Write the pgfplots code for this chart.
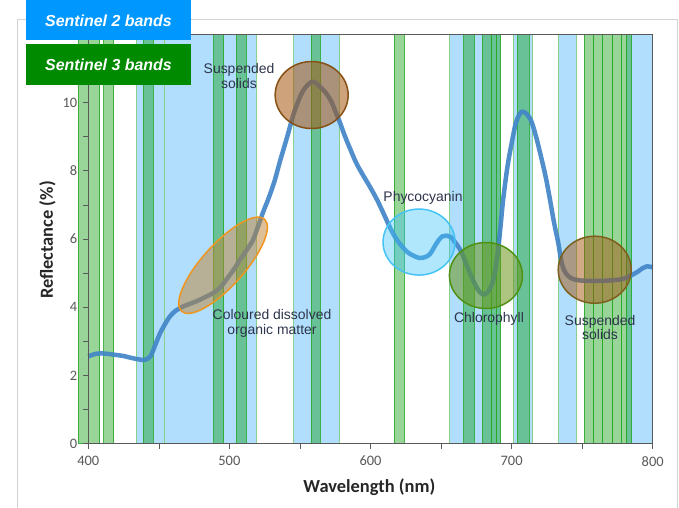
\documentclass[border=0pt]{standalone}
\usepackage{pgfplots}
\pgfplotsset{compat=1.18}
\usepackage{fontspec}
\setmainfont{Carlito}
\newfontfamily\arialfont{Liberation Sans}
\usetikzlibrary{shapes.geometric}

\definecolor{s2head}{RGB}{0,152,255}
\definecolor{s3head}{RGB}{0,138,0}
\definecolor{s2fill}{RGB}{176,222,252}
\definecolor{s3green}{RGB}{0,150,0}
\definecolor{s3edge}{RGB}{40,170,40}
\definecolor{curveblue}{RGB}{66,134,200}
\definecolor{labelgray}{RGB}{89,89,89}
\definecolor{annot}{RGB}{45,52,75}
\definecolor{ssfill}{RGB}{165,85,15}
\definecolor{ssedge}{RGB}{135,80,20}
\definecolor{cdomfill}{RGB}{190,130,50}
\definecolor{cdomedge}{RGB}{240,150,30}
\definecolor{pcfill}{RGB}{60,195,250}
\definecolor{pcedge}{RGB}{70,195,245}
\definecolor{chlfill}{RGB}{105,150,25}
\definecolor{chledge}{RGB}{80,145,20}
\definecolor{ss2edge}{RGB}{125,95,30}

\pgfplotsset{
  s2band/.style={fill=s2fill, draw=s3edge!55, line width=0.6bp},
  s3band/.style={fill=s3green, fill opacity=0.4, draw=s3edge, draw opacity=0.85, line width=0.8bp},
}

\begin{document}
\begin{tikzpicture}
\useasboundingbox (0,0) rectangle (679bp,508bp);
% chart frame
\draw[gray!35, line width=0.8bp] (17bp,-5bp) -- (17bp,489bp) -- (677bp,489bp) -- (677bp,-5bp);

\begin{axis}[
  at={(88.3bp,64.3bp)}, anchor=south west,
  scale only axis, width=564.4bp, height=409.4bp,
  xmin=400, xmax=800, ymin=0, ymax=12,
  clip=false, axis on top,
  xtick={400,500,600,700,800}, minor x tick num=1,
  ytick={0,2,...,12}, minor y tick num=1,
  xtick pos=bottom, ytick pos=left,
  tick align=outside,
  major tick length=5bp, minor tick length=5bp,
  tick style={draw=labelgray, line width=0.6bp},
  axis line style={draw=labelgray, line width=0.7bp},
  /pgf/number format/assume math mode=true,
  tick label style={font=\fontsize{14.5}{14.5}\selectfont, text=labelgray},
  xticklabel style={yshift=-4bp},
  yticklabel style={xshift=-2.5bp},
  xlabel={Wavelength (nm)},
  ylabel={Reflectance (\%)},
  label style={font=\fontsize{18.5}{18.5}\selectfont\bfseries, text=black!85},
  xlabel style={at={(axis description cs:0.498,-0.1058)}, anchor=center},
  ylabel style={at={(axis description cs:-0.0723,0.4976)}, anchor=center, rotate=0},
]
% Sentinel-2 bands
\addplot[s2band] coordinates {(434,0)(434,12)(454,12)(454,0)} -- cycle;
\addplot[s2band] coordinates {(454,0)(454,12)(519,12)(519,0)} -- cycle;
\addplot[s2band] coordinates {(545,0)(545,12)(578,12)(578,0)} -- cycle;
\addplot[s2band] coordinates {(655.5,0)(655.5,12)(692,12)(692,0)} -- cycle;
\addplot[s2band] coordinates {(701,0)(701,12)(715,12)(715,0)} -- cycle;
\addplot[s2band] coordinates {(733,0)(733,12)(746,12)(746,0)} -- cycle;
\addplot[s2band] coordinates {(781,0)(781,12)(800,12)(800,0)} -- cycle;
% Sentinel-3 bands
\addplot[s3band] coordinates {(393,0)(393,12)(408,12)(408,0)} -- cycle;
\addplot[s3band] coordinates {(411,0)(411,12)(418,12)(418,0)} -- cycle;
\addplot[s3band] coordinates {(439,0)(439,12)(446,12)(446,0)} -- cycle;
\addplot[s3band] coordinates {(489,0)(489,12)(496,12)(496,0)} -- cycle;
\addplot[s3band] coordinates {(505,0)(505,12)(512,12)(512,0)} -- cycle;
\addplot[s3band] coordinates {(558,0)(558,12)(564.5,12)(564.5,0)} -- cycle;
\addplot[s3band] coordinates {(617,0)(617,12)(624,12)(624,0)} -- cycle;
\addplot[s3band] coordinates {(666,0)(666,12)(673.5,12)(673.5,0)} -- cycle;
\addplot[s3band] coordinates {(679,0)(679,12)(685.5,12)(685.5,0)} -- cycle;
\addplot[s3band] coordinates {(685.5,0)(685.5,12)(689.3,12)(689.3,0)} -- cycle;
\addplot[s3band] coordinates {(689.3,0)(689.3,12)(692,12)(692,0)} -- cycle;
\addplot[s3band] coordinates {(704,0)(704,12)(712.5,12)(712.5,0)} -- cycle;
\addplot[s3band] coordinates {(751.3,0)(751.3,12)(758,12)(758,0)} -- cycle;
\addplot[s3band] coordinates {(758,0)(758,12)(764.6,12)(764.6,0)} -- cycle;
\addplot[s3band] coordinates {(764.6,0)(764.6,12)(771.4,12)(771.4,0)} -- cycle;
\addplot[s3band] coordinates {(771.4,0)(771.4,12)(778,12)(778,0)} -- cycle;
\addplot[s3band] coordinates {(778,0)(778,12)(781.6,12)(781.6,0)} -- cycle;
\addplot[s3band] coordinates {(781.6,0)(781.6,12)(785.1,12)(785.1,0)} -- cycle;

% water reflectance spectrum
\addplot[curveblue, line width=4.5bp, draw opacity=0.92, smooth, tension=0.6] table {
400 2.56
406 2.64
412 2.64
418 2.61
425 2.57
430 2.52
436 2.47
440 2.46
444 2.56
448 2.95
451 3.25
455 3.55
458 3.74
462 3.90
466 4.00
472 4.10
477 4.18
483 4.30
489 4.43
494 4.60
498 4.82
503 5.10
508 5.42
513 5.72
517 6.00
521 6.45
524 6.80
528 7.22
532 7.70
536 8.30
541 9.00
545 9.60
548 9.95
551 10.25
554 10.45
558 10.60
561 10.58
564 10.47
568 10.30
572 10.05
575 9.75
578 9.45
582 9.00
586 8.60
590 8.22
595 7.85
600 7.50
605 7.12
610 6.68
614 6.32
618 6.02
622 5.80
626 5.62
630 5.52
634 5.45
638 5.46
642 5.55
645 5.75
648 5.95
651 6.08
654 6.10
657 6.05
660 5.90
664 5.65
668 5.25
671 4.95
675 4.60
678 4.42
681 4.38
684 4.50
687 4.80
690 5.55
692 6.30
694 7.15
697 8.10
700 8.80
703 9.40
706 9.68
708 9.73
711 9.65
714 9.45
717 9.05
720 8.56
724 7.85
727 7.20
730 6.50
733 5.90
735 5.40
737 5.10
740 4.92
744 4.82
750 4.78
756 4.77
762 4.77
768 4.78
774 4.80
779 4.83
784 4.92
789 5.03
793 5.15
796 5.20
800 5.17
};

% highlighted features
\node[ellipse, inner sep=0, minimum width=124bp, minimum height=42bp, rotate=48,
      fill=cdomfill, fill opacity=0.5, draw=cdomedge, line width=1.5bp] at (axis cs:495.5,5.23) {};
\node[ellipse, inner sep=0, minimum width=73bp, minimum height=67bp,
      fill=ssfill, fill opacity=0.55, draw=ssedge, line width=1.5bp] at (axis cs:558.3,10.22) {};
\node[ellipse, inner sep=0, minimum width=72bp, minimum height=66bp,
      fill=pcfill, fill opacity=0.4, draw=pcedge, line width=1.5bp] at (axis cs:634.4,5.91) {};
\node[ellipse, inner sep=0, minimum width=73bp, minimum height=66bp,
      fill=chlfill, fill opacity=0.55, draw=chledge, line width=1.5bp] at (axis cs:681.8,4.93) {};
\node[ellipse, inner sep=0, minimum width=73bp, minimum height=67bp,
      fill=ssfill, fill opacity=0.5, draw=ss2edge, line width=1.5bp] at (axis cs:758.9,5.10) {};
\end{axis}

% feature labels
\begin{scope}[every node/.style={font=\arialfont\fontsize{14}{15}\selectfont, text=annot, align=center, inner sep=0}]
\node at (239bp,432bp) {Suspended\\solids};
\node at (423bp,310bp) {Phycocyanin};
\node at (272bp,184.5bp) {Coloured dissolved\\organic matter};
\node at (489bp,189bp) {Chlorophyll};
\node at (600bp,180.5bp) {Suspended\\solids};
\end{scope}

% band key
\fill[s2head] (26bp,468bp) rectangle (191bp,508bp);
\fill[s3head] (26bp,423bp) rectangle (191bp,464bp);
\node[text=white, font=\arialfont\fontsize{16}{16}\selectfont\bfseries\itshape] at (108.5bp,487.2bp) {Sentinel 2 bands};
\node[text=white, font=\arialfont\fontsize{16}{16}\selectfont\bfseries\itshape] at (108.5bp,442.8bp) {Sentinel 3 bands};
\end{tikzpicture}
\end{document}
